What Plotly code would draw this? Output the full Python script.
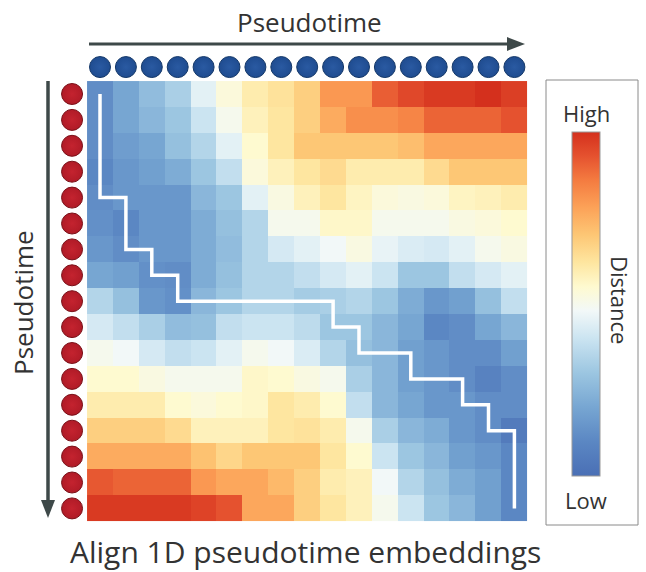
import plotly.graph_objects as go

W, H = 646, 572

# ---- data ----
distance = [
    [0.12, 0.20, 0.27, 0.33, 0.45, 0.53, 0.60, 0.63, 0.68, 0.80, 0.80, 0.91, 0.95, 0.98, 0.98, 1.00, 0.97],
    [0.12, 0.20, 0.25, 0.30, 0.40, 0.50, 0.58, 0.62, 0.68, 0.76, 0.82, 0.82, 0.84, 0.90, 0.90, 0.90, 0.93],
    [0.12, 0.17, 0.20, 0.28, 0.35, 0.45, 0.55, 0.62, 0.70, 0.70, 0.70, 0.70, 0.72, 0.77, 0.77, 0.77, 0.77],
    [0.10, 0.15, 0.18, 0.22, 0.30, 0.38, 0.53, 0.58, 0.62, 0.65, 0.60, 0.60, 0.60, 0.65, 0.70, 0.70, 0.70],
    [0.12, 0.15, 0.15, 0.15, 0.25, 0.30, 0.45, 0.52, 0.58, 0.62, 0.57, 0.53, 0.52, 0.53, 0.57, 0.58, 0.60],
    [0.13, 0.10, 0.15, 0.15, 0.22, 0.28, 0.35, 0.50, 0.50, 0.56, 0.56, 0.50, 0.50, 0.50, 0.52, 0.53, 0.55],
    [0.15, 0.12, 0.15, 0.15, 0.22, 0.27, 0.35, 0.42, 0.45, 0.48, 0.52, 0.46, 0.43, 0.42, 0.45, 0.50, 0.52],
    [0.20, 0.18, 0.13, 0.12, 0.22, 0.28, 0.35, 0.35, 0.38, 0.42, 0.45, 0.40, 0.30, 0.30, 0.38, 0.42, 0.45],
    [0.35, 0.28, 0.15, 0.13, 0.25, 0.30, 0.35, 0.35, 0.32, 0.33, 0.35, 0.30, 0.22, 0.15, 0.18, 0.28, 0.38],
    [0.42, 0.38, 0.33, 0.27, 0.28, 0.38, 0.40, 0.40, 0.37, 0.30, 0.30, 0.25, 0.20, 0.10, 0.12, 0.20, 0.25],
    [0.50, 0.48, 0.42, 0.38, 0.40, 0.45, 0.50, 0.48, 0.43, 0.35, 0.28, 0.25, 0.18, 0.15, 0.12, 0.12, 0.18],
    [0.55, 0.55, 0.52, 0.50, 0.50, 0.50, 0.56, 0.55, 0.52, 0.50, 0.33, 0.25, 0.18, 0.15, 0.12, 0.08, 0.12],
    [0.60, 0.60, 0.60, 0.55, 0.53, 0.55, 0.56, 0.62, 0.60, 0.55, 0.38, 0.25, 0.20, 0.15, 0.15, 0.12, 0.12],
    [0.68, 0.68, 0.68, 0.65, 0.58, 0.58, 0.58, 0.62, 0.63, 0.60, 0.50, 0.33, 0.25, 0.22, 0.15, 0.12, 0.05],
    [0.76, 0.76, 0.76, 0.76, 0.71, 0.66, 0.70, 0.70, 0.70, 0.62, 0.55, 0.40, 0.30, 0.25, 0.18, 0.15, 0.10],
    [0.92, 0.90, 0.90, 0.90, 0.80, 0.77, 0.77, 0.73, 0.68, 0.60, 0.58, 0.48, 0.35, 0.28, 0.22, 0.18, 0.10],
    [0.98, 0.98, 0.98, 0.98, 0.96, 0.93, 0.77, 0.77, 0.68, 0.62, 0.58, 0.50, 0.40, 0.30, 0.25, 0.18, 0.10],
]
n = len(distance)
cells = list(range(n))

# alignment path (column index, row index)
path_col = [0, 0, 1, 1, 2, 2, 3, 3, 9, 9, 10, 10, 12, 12, 14, 14, 15, 15, 16, 16]
path_row = [0, 4, 4, 6, 6, 7, 7, 8, 8, 9, 9, 10, 10, 11, 11, 12, 12, 13, 13, 16]

colorscale = [
    [0.00, "#4a6fb5"], [0.10, "#5b87c3"], [0.20, "#77a6d2"], [0.30, "#9cc6e1"],
    [0.40, "#cbe4f1"], [0.48, "#f2f8f8"], [0.55, "#fefad0"], [0.62, "#fee6a0"],
    [0.70, "#fdc775"], [0.78, "#fca258"], [0.86, "#f47b40"], [0.93, "#e5522f"],
    [1.00, "#d4301d"],
]

# pixel geometry -> data coordinates (cell pitch)
cell = 25.9
x0c, y0c = 100.0, 94.0  # pixel centre of cell (0,0)
xr = [(0 - x0c) / cell, (W - x0c) / cell]
yr = [(H - y0c) / cell, (0 - y0c) / cell]

fig = go.Figure()

fig.add_trace(go.Heatmap(
    z=distance, x=cells, y=cells, zmin=0, zmax=1, colorscale=colorscale,
    zsmooth=False, hoverinfo="skip",
    colorbar=dict(
        thickness=28, thicknessmode="pixels", len=344, lenmode="pixels",
        x=572 / W, xanchor="left", y=1 - 304 / H, yanchor="middle",
        xpad=0, ypad=0, outlinecolor="#9a9a9a", outlinewidth=1,
        showticklabels=False, ticks="",
    ),
))

fig.add_trace(go.Scatter(
    x=path_col, y=path_row, mode="lines",
    line=dict(color="white", width=3.5), hoverinfo="skip", showlegend=False,
))

# circles: columns (top, blue) and rows (left, red)
top_y = -0.5 - (81 - 67) / cell
left_x = -0.5 - (87 - 72) / cell
fig.add_trace(go.Scatter(
    x=cells, y=[top_y] * n, mode="markers", cliponaxis=False,
    marker=dict(size=21, color="#1f4c90", line=dict(color="#143869", width=1),
                gradient=dict(type="radial", color="#2a5aa2")),
    hoverinfo="skip", showlegend=False,
))
fig.add_trace(go.Scatter(
    x=[left_x] * n, y=cells, mode="markers", cliponaxis=False,
    marker=dict(size=21, color="#b01b27", line=dict(color="#7a1018", width=1),
                gradient=dict(type="radial", color="#c4232f")),
    hoverinfo="skip", showlegend=False,
))

def px(x):
    return x / W

def py(y):
    return 1 - y / H

arrow_col = "#3e4949"
shapes = [
    # top arrow
    dict(type="line", xref="paper", yref="paper", x0=px(89), x1=px(512), y0=py(44), y1=py(44),
         line=dict(color=arrow_col, width=3)),
    dict(type="path", xref="paper", yref="paper",
         path=f"M {px(507)},{py(37)} L {px(525)},{py(44)} L {px(507)},{py(51)} Z",
         fillcolor=arrow_col, line=dict(width=0)),
    # left arrow
    dict(type="line", xref="paper", yref="paper", x0=px(48), x1=px(48), y0=py(81), y1=py(504),
         line=dict(color=arrow_col, width=3.5)),
    dict(type="path", xref="paper", yref="paper",
         path=f"M {px(41)},{py(500)} L {px(48)},{py(518)} L {px(55)},{py(500)} Z",
         fillcolor=arrow_col, line=dict(width=0)),
    # colorbar box
    dict(type="rect", xref="paper", yref="paper", x0=px(546), x1=px(638), y0=py(525), y1=py(80),
         line=dict(color="#8a8a8a", width=1)),
]

font_fam = "Open Sans, Noto Sans, sans-serif"
txt_col = "#333333"
annotations = [
    dict(text="Pseudotime", x=px(309), y=py(22), xref="paper", yref="paper", showarrow=False,
         font=dict(family=font_fam, size=26, color=txt_col), xanchor="center", yanchor="middle"),
    dict(text="Pseudotime", x=px(23), y=py(303), xref="paper", yref="paper", showarrow=False,
         textangle=-90, font=dict(family=font_fam, size=26, color=txt_col),
         xanchor="center", yanchor="middle"),
    dict(text="Align 1D pseudotime embeddings", x=px(305), y=py(551), xref="paper", yref="paper",
         showarrow=False, font=dict(family=font_fam, size=30, color=txt_col),
         xanchor="center", yanchor="middle"),
    dict(text="High", x=px(586), y=py(113), xref="paper", yref="paper", showarrow=False,
         font=dict(family=font_fam, size=22, color=txt_col), xanchor="center", yanchor="middle"),
    dict(text="Low", x=px(586), y=py(500), xref="paper", yref="paper", showarrow=False,
         font=dict(family=font_fam, size=22, color=txt_col), xanchor="center", yanchor="middle"),
    dict(text="Distance", x=px(620), y=py(300), xref="paper", yref="paper", showarrow=False,
         textangle=90, font=dict(family=font_fam, size=22, color=txt_col),
         xanchor="center", yanchor="middle"),
]

fig.update_layout(
    width=W, height=H, margin=dict(l=0, r=0, t=0, b=0),
    paper_bgcolor="white", plot_bgcolor="white", showlegend=False,
    xaxis=dict(range=xr, visible=False, domain=[0, 1], fixedrange=True),
    yaxis=dict(range=yr, visible=False, domain=[0, 1], fixedrange=True),
    shapes=shapes, annotations=annotations,
)

fig.write_html("out.html")
